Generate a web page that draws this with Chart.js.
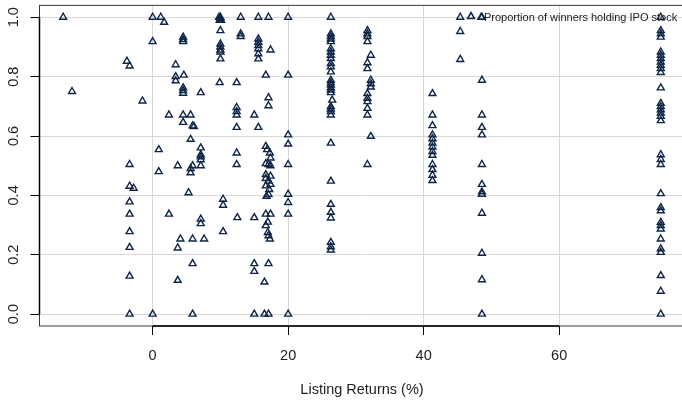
<!DOCTYPE html>
<html>
<head>
<meta charset="utf-8">
<script src="https://cdn.jsdelivr.net/npm/chart.js@4.4.1/dist/chart.umd.min.js"></script>
<style>
  html, body { margin: 0; padding: 0; background: #fff; overflow: hidden; }
  #wrap { width: 700px; height: 404px; }
</style>
</head>
<body>
<div id="wrap"><canvas id="ipoChart" width="700" height="404"></canvas></div>
<script>
// listing return (%) of each IPO, and share of winners still holding the stock
const listingReturns = [
  -13.2, -11.9,
  -3.8, -3.4, -3.4, -3.4, -2.8, -3.4, -3.4, -3.4, -3.4, -3.4, -3.4,
  -1.5, 0, 0, 0, 0.9, 0.9, 1.2, 1.7, 2.4, 2.4,
  3.4, 3.4, 3.4, 3.7, 3.7, 3.7, 4.1,
  4.5, 4.5, 4.5, 4.6, 4.5, 4.5, 4.5, 4.5, 4.5, 5.3,
  5.6, 5.6, 5.6, 5.6, 5.9, 5.9, 5.9, 5.9, 5.9, 6.1,
  7.1, 7.1, 7.1, 7.1, 7.1, 7.1, 7.1, 7.1, 7.6,
  9.8, 10, 10, 9.9, 10.1, 10, 10, 10, 10, 10, 10, 9.9, 10.4, 10.4, 10.4,
  13, 13, 13, 12.4, 12.4, 12.4, 12.4, 12.4, 12.4, 12.4, 12.5,
  15.6, 15.6, 15.6, 15.6, 15.6, 15.6, 15.6, 15, 15.6, 15, 15, 15, 15,
  17.1, 17.4, 16.7, 17.1, 17.1, 16.7, 16.9, 17.3, 17.4, 16.7, 17.1, 17.4,
  16.7, 17.4, 16.7, 17.1, 17.4, 16.7, 17.2, 16.8, 17.1, 16.7, 17.4, 17,
  16.7, 17, 17.1, 17.3, 17.1, 16.5, 16.5, 17.1,
  20, 20, 20, 20, 20, 20, 20, 20, 20,
  26.3, 26.3, 26.3, 26.3, 26.3, 26.3, 26.3, 26.3, 26.3, 26.3, 26.3, 26.3,
  26.3, 26.3, 26.3, 26.3, 26.3, 26.3, 26.5, 26.3, 26.3, 26.3, 26.3, 26.3,
  26.3, 26.3, 26.3, 26.3, 26.3, 26.3, 26.3,
  31.7, 31.7, 31.7, 31.7, 32.2, 31.7, 31.7, 32.2, 32.2, 32.2, 31.7, 31.7,
  31.7, 31.7, 31.7, 32.2, 31.7,
  41.3, 41.3, 41.3, 41.3, 41.3, 41.3, 41.3, 41.3, 41.3, 41.3, 41.3, 41.3, 41.3,
  45.4, 45.4, 45.4,
  48.6, 48.5, 48.6, 48.6, 48.6, 48.6, 48.6, 48.6, 48.6, 48.6, 48.6, 48.6, 48.6, 48.6,
  75, 75, 75, 75, 75, 75, 75, 75, 75, 75, 75, 75, 75, 75, 75, 75, 75,
  75, 75, 75, 75, 75, 75, 75, 75, 75, 75, 75, 75, 75, 75, 75, 75
];
const winnersHolding = [
  1.0, 0.75,
  0.852, 0.836, 0.504, 0.431, 0.424, 0.378, 0.337, 0.278, 0.225, 0.128, 0.0,
  0.718, 1.0, 0.918, 0.0, 0.554, 0.48, 1.0, 0.983, 0.671, 0.337,
  0.84, 0.80, 0.786, 0.5, 0.223, 0.114, 0.253,
  0.933, 0.925, 0.918, 0.805, 0.762, 0.753, 0.744, 0.671, 0.646, 0.409,
  0.671, 0.589, 0.49, 0.476, 0.634, 0.5, 0.253, 0.17, 0.0, 0.632,
  0.746, 0.56, 0.537, 0.53, 0.52, 0.5, 0.32, 0.305, 0.253,
  1.0, 1.0, 0.995, 0.99, 0.99, 0.955, 0.91, 0.9, 0.89, 0.883, 0.86, 0.78, 0.387, 0.367, 0.278,
  1.0, 0.944, 0.935, 0.78, 0.696, 0.682, 0.671, 0.629, 0.543, 0.504, 0.325,
  1.0, 0.927, 0.916, 0.905, 0.894, 0.877, 0.86, 0.671, 0.629, 0.325, 0.17, 0.144, 0.0,
  1.0, 0.89, 0.805, 0.729, 0.702, 0.565, 0.554, 0.543, 0.526, 0.507, 0.504, 0.5,
  0.47, 0.465, 0.457, 0.448, 0.437, 0.432, 0.42, 0.397, 0.403, 0.337, 0.337, 0.31,
  0.298, 0.275, 0.264, 0.253, 0.17, 0.108, 0.0, 0.0,
  1.0, 0.805, 0.604, 0.573, 0.504, 0.404, 0.376, 0.337, 0.0,
  1.0, 0.944, 0.935, 0.927, 0.918, 0.894, 0.883, 0.872, 0.861, 0.844, 0.833, 0.816,
  0.788, 0.779, 0.772, 0.762, 0.755, 0.746, 0.721, 0.699, 0.691, 0.682, 0.671, 0.576,
  0.448, 0.37, 0.343, 0.324, 0.242, 0.227, 0.216,
  0.955, 0.944, 0.935, 0.918, 0.872, 0.847, 0.827, 0.788, 0.776, 0.765, 0.743, 0.727,
  0.716, 0.693, 0.671, 0.599, 0.504,
  0.743, 0.671, 0.635, 0.604, 0.591, 0.576, 0.563, 0.548, 0.535, 0.504, 0.487, 0.468, 0.45,
  1.0, 0.952, 0.858,
  1.0, 1.0, 0.788, 0.671, 0.629, 0.604, 0.504, 0.437, 0.412, 0.404, 0.34, 0.205, 0.116, 0.0,
  1.0, 0.955, 0.944, 0.933, 0.883, 0.872, 0.861, 0.849, 0.838, 0.827, 0.814, 0.762, 0.71,
  0.699, 0.688, 0.677, 0.666, 0.652, 0.537, 0.521, 0.504, 0.406, 0.359, 0.348, 0.309,
  0.298, 0.287, 0.253, 0.22, 0.208, 0.13, 0.077, 0.0
];
const xTicks = [0, 20, 40, 60];
const yTicks = [0, 0.2, 0.4, 0.6, 0.8, 1.0];
const seriesName = "Proportion of winners holding IPO stock";

const navy = "#0e2547";
const font = "Liberation Sans, Arial, Helvetica, sans-serif";

// R style frame: thin box plus heavier axis lines between first and last tick,
// rotated y labels and a small legend in the top right corner
const rFrame = {
  id: "rFrame",
  afterDraw(chart) {
    const { ctx, chartArea: a, scales } = chart;
    const xs = scales.x, ys = scales.y;
    ctx.save();
    ctx.strokeStyle = "#3a3a3a";
    ctx.lineWidth = 1;
    ctx.strokeRect(a.left, a.top, a.right - a.left, a.bottom - a.top);

    ctx.strokeStyle = "#000";
    ctx.lineWidth = 1.5;
    ctx.beginPath();
    ctx.moveTo(xs.getPixelForValue(xTicks[0]), a.bottom);
    ctx.lineTo(xs.getPixelForValue(xTicks[xTicks.length - 1]), a.bottom);
    ctx.moveTo(a.left, ys.getPixelForValue(yTicks[0]));
    ctx.lineTo(a.left, ys.getPixelForValue(yTicks[yTicks.length - 1]));
    ctx.stroke();

    ctx.fillStyle = "#222";
    ctx.font = "14.5px " + font;
    ctx.textAlign = "center";
    ctx.textBaseline = "middle";
    yTicks.forEach((v) => {
      ctx.save();
      ctx.translate(14, ys.getPixelForValue(v));
      ctx.rotate(-Math.PI / 2);
      ctx.fillText(v.toFixed(1), 0, 0);
      ctx.restore();
    });

    // legend
    ctx.strokeStyle = navy;
    ctx.fillStyle = "rgba(0,0,0,0)";
    Chart.helpers.drawPoint(ctx, { pointStyle: "triangle", radius: 4, borderWidth: 1.3, rotation: 0 }, 471, 16.5);
    ctx.fillStyle = "#222";
    ctx.font = "11px " + font;
    ctx.textAlign = "left";
    ctx.fillText(chart.data.datasets[0].label, 484, 17.5);
    ctx.restore();
  },
};

const points = listingReturns.map((x, i) => ({ x: x, y: winnersHolding[i] }));

new Chart(document.getElementById("ipoChart"), {
  type: "scatter",
  data: {
    datasets: [
      {
        label: seriesName,
        data: points,
        pointStyle: "triangle",
        pointRadius: 4,
        pointHoverRadius: 4,
        borderWidth: 1.4,
        borderColor: navy,
        backgroundColor: "rgba(0,0,0,0)",
      },
    ],
  },
  options: {
    responsive: false,
    animation: false,
    events: [],
    layout: { padding: { left: 0, top: 3.3, right: 15.5, bottom: 0 } },
    plugins: {
      legend: { display: false },
      tooltip: { enabled: false },
    },
    scales: {
      x: {
        type: "linear",
        min: -16.7,
        max: 78.5,
        afterBuildTicks: (s) => { s.ticks = xTicks.map((v) => ({ value: v })); },
        afterFit: (s) => { s.height = 78; },
        border: { display: false },
        grid: { color: "#d8d8d8", lineWidth: 1, tickColor: "#000", tickLength: 9 },
        ticks: {
          color: "#222",
          font: { family: font, size: 14.5 },
          padding: 12,
          maxRotation: 0,
          callback: (v) => String(v),
        },
        title: {
          display: true,
          text: "Listing Returns (%)",
          color: "#222",
          font: { family: font, size: 14.5 },
          padding: { top: 0, bottom: 5.5 },
        },
      },
      y: {
        type: "linear",
        min: -0.04,
        max: 1.04,
        afterBuildTicks: (s) => { s.ticks = yTicks.map((v) => ({ value: v })); },
        afterFit: (s) => { s.width = 39.5; },
        border: { display: false },
        grid: { color: "#d8d8d8", lineWidth: 1, tickColor: "#000", tickLength: 9 },
        ticks: { display: false },
      },
    },
  },
  plugins: [rFrame],
});
</script>
</body>
</html>
